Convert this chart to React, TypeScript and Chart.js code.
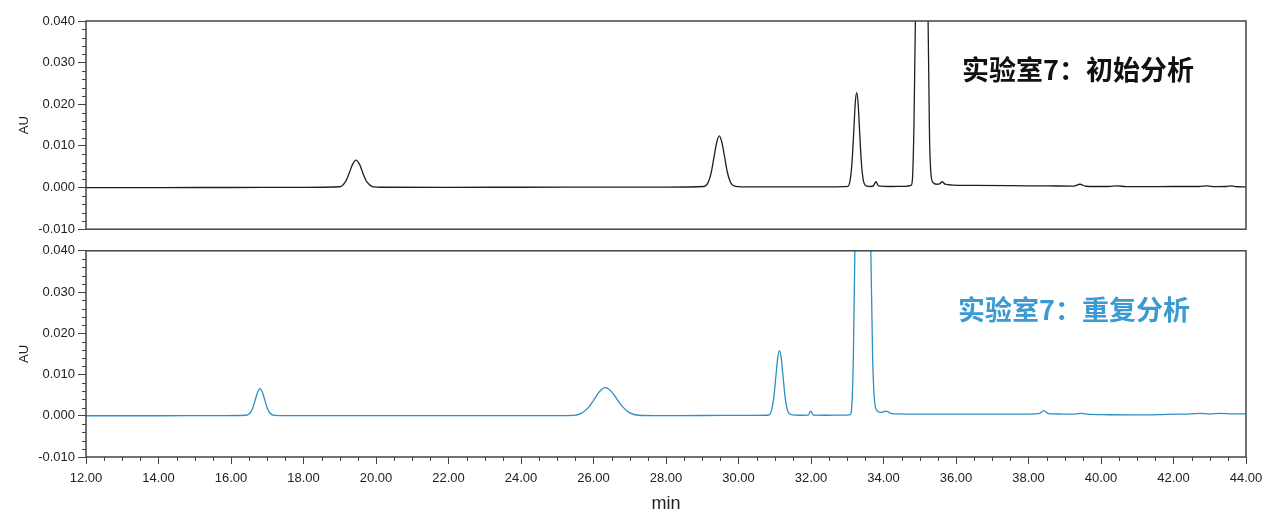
import React, { useEffect, useRef } from "react";
import { Chart, registerables } from "chart.js";

Chart.register(...registerables);

// ---------- data ----------
const xMin = 12;
const xMax = 44;
const yMin = -0.01;
const yMax = 0.04;

const topLabel = "实验室7：初始分析";
const bottomLabel = "实验室7：重复分析";
const xTitle = "min";
const yTitle = "AU";

// Lab 7 initial analysis (black)
const timeTop = [
  12.0, 14.0, 16.0, 18.0, 19.0, 19.15, 19.25, 19.35, 19.45, 19.55, 19.65, 19.75, 19.9, 20.2,
  22.0, 24.0, 26.0, 28.0, 29.05, 29.15, 29.25, 29.33, 29.4, 29.47, 29.54, 29.61, 29.69, 29.79,
  29.92, 30.3, 31.5, 32.5, 33.02, 33.08, 33.13, 33.18, 33.22, 33.26, 33.3, 33.34, 33.39, 33.44,
  33.52, 33.65, 33.72, 33.79, 33.86, 34.2, 34.6, 34.76, 34.8, 34.84, 34.88, 34.95, 35.05, 35.12,
  35.23, 35.27, 35.31, 35.36, 35.45, 35.55, 35.62, 35.7, 35.9, 36.5, 37.5, 38.5, 39.25, 39.42,
  39.58, 40.2, 40.45, 40.7, 41.2, 42.0, 42.7, 42.93, 43.15, 43.45, 43.6, 43.75, 44.0,
];
const auTop = [
  0.0, 0.0, 0.00002, 0.00004, 0.0002, 0.00129, 0.0032, 0.0055, 0.0066, 0.0055, 0.0032, 0.00135, 0.00025, 0.00008,
  0.00006, 0.00008, 0.0001, 0.00012, 0.00026, 0.001, 0.0037, 0.0076, 0.0109, 0.0124, 0.0109, 0.0077, 0.0038, 0.0011,
  0.00028, 0.00015, 0.00016, 0.00018, 0.0003, 0.0018, 0.0059, 0.0135, 0.0202, 0.0228, 0.0202, 0.0136, 0.006, 0.0019,
  0.0004, 0.00025, 0.0004, 0.0014, 0.0004, 0.00025, 0.0003, 0.0005, 0.0022, 0.015, 0.04, 0.12, 0.2, 0.15,
  0.04, 0.012, 0.0032, 0.0013, 0.0008, 0.0009, 0.0014, 0.0008, 0.0006, 0.00052, 0.00045, 0.0004, 0.00035, 0.0008,
  0.00032, 0.00025, 0.0004, 0.00022, 0.00024, 0.00025, 0.00025, 0.0004, 0.00022, 0.00025, 0.0004, 0.0002, 0.00018,
];

// Lab 7 repeat analysis (blue)
const timeBottom = [
  12.0, 14.0, 15.5, 16.42, 16.52, 16.6, 16.67, 16.74, 16.8, 16.86, 16.93, 17.0, 17.08, 17.2,
  17.6, 20.0, 23.0, 25.0, 25.45, 25.65, 25.85, 26.0, 26.15, 26.33, 26.5, 26.65, 26.8, 27.0,
  27.25, 27.7, 29.0, 30.3, 30.82, 30.9, 30.97, 31.03, 31.08, 31.13, 31.18, 31.23, 31.29, 31.36,
  31.45, 31.7, 31.92, 31.99, 32.07, 32.4, 32.9, 33.08, 33.13, 33.17, 33.21, 33.28, 33.42, 33.56,
  33.65, 33.7, 33.75, 33.8, 33.92, 34.07, 34.2, 34.4, 35.0, 36.0, 37.0, 38.0, 38.28, 38.42,
  38.56, 38.9, 39.3, 39.45, 39.6, 40.2, 40.9, 41.6, 42.1, 42.4, 42.75, 43.0, 43.3, 43.6, 44.0,
];
const auBottom = [
  0.0, 0.0, 0.00002, 0.00012, 0.0006, 0.0019, 0.0039, 0.0058, 0.0066, 0.0058, 0.0039, 0.0019, 0.0006, 0.0001,
  0.00003, 0.00002, 0.00003, 0.00005, 0.0001, 0.0005, 0.0019, 0.0037, 0.0057, 0.0068, 0.0058, 0.004, 0.0022, 0.0007,
  0.00012, 0.00005, 0.00006, 0.00008, 0.00012, 0.001, 0.0042, 0.0094, 0.0139, 0.0158, 0.0139, 0.0094, 0.0042, 0.0011,
  0.00025, 0.00012, 0.00015, 0.0011, 0.00015, 0.00012, 0.00015, 0.0003, 0.003, 0.015, 0.04, 0.12, 0.22, 0.13,
  0.04, 0.014, 0.004, 0.0015, 0.0008, 0.0011, 0.0006, 0.00045, 0.0004, 0.0004, 0.00042, 0.00042, 0.0005, 0.00125,
  0.0005, 0.00042, 0.0004, 0.0006, 0.0004, 0.00025, 0.0002, 0.00028, 0.0004, 0.0004, 0.0006, 0.00042, 0.0006, 0.00048, 0.00048,
];

// ---------- styles ----------
const FONT = "'Liberation Sans', Arial, sans-serif";
const CJK = "'Noto Sans CJK SC', 'Noto Sans', sans-serif";
const AXIS_COLOR = "#444444";
const TEXT_COLOR = "#222222";
const BLACK_LINE = "#1e1e1e";
const BLUE_LINE = "#2f8ec3";
const BLUE_TEXT = "#3b9ad2";

const PLOT_LEFT = 86;
const PLOT_RIGHT_PAD = 34;

const framePlugin = {
  id: "frame",
  afterDraw(chart: any) {
    const { ctx, chartArea: a, scales } = chart;
    ctx.save();
    ctx.strokeStyle = AXIS_COLOR;
    ctx.lineWidth = 1;
    ctx.beginPath();
    // y minor ticks every 0.002
    const y = scales.y;
    for (let k = 0; k <= 25; k++) {
      if (k % 5 === 0) continue;
      const v = yMin + k * 0.002;
      const py = Math.round(y.getPixelForValue(v)) + 0.5;
      ctx.moveTo(a.left - 4, py);
      ctx.lineTo(a.left, py);
    }
    const x = scales.x;
    if (x && x.options.display) {
      for (let k = 0; k <= 64; k++) {
        if (k % 4 === 0) continue;
        const v = xMin + k * 0.5;
        const px = Math.round(x.getPixelForValue(v)) + 0.5;
        ctx.moveTo(px, a.bottom);
        ctx.lineTo(px, a.bottom + 4);
      }
    }
    ctx.stroke();
    ctx.lineWidth = 1.5;
    ctx.strokeRect(a.left, a.top, a.right - a.left, a.bottom - a.top);
    ctx.restore();
  },
};

function makeConfig(times: number[], values: number[], color: string, showX: boolean, padTop: number, padBottom: number): any {
  return {
    type: "line",
    data: {
      datasets: [
        {
          data: times.map((t, i) => ({ x: t, y: values[i] })),
          borderColor: color,
          borderWidth: 1.3,
          pointRadius: 0,
          cubicInterpolationMode: "monotone",
          fill: false,
        },
      ],
    },
    options: {
      animation: false,
      responsive: false,
      events: [],
      layout: { padding: { left: 0, right: PLOT_RIGHT_PAD, top: padTop, bottom: padBottom } },
      plugins: { legend: { display: false }, tooltip: { enabled: false }, title: { display: false } },
      scales: {
        x: {
          type: "linear",
          display: showX,
          min: xMin,
          max: xMax,
          border: { display: false },
          grid: { drawOnChartArea: false, drawTicks: true, tickLength: 7, tickColor: AXIS_COLOR, tickWidth: 1 },
          ticks: {
            stepSize: 2,
            autoSkip: false,
            maxRotation: 0,
            padding: 7,
            color: TEXT_COLOR,
            font: { family: FONT, size: 13 },
            callback: (v: number) => Number(v).toFixed(2),
          },
          title: {
            display: true,
            text: xTitle,
            color: TEXT_COLOR,
            font: { family: FONT, size: 18 },
            padding: { top: 0, bottom: 5 },
          },
          afterFit: (s: any) => {
            s.height = showX ? 63 : 0;
          },
        },
        y: {
          type: "linear",
          min: yMin,
          max: yMax,
          border: { display: false },
          grid: { drawOnChartArea: false, drawTicks: true, tickLength: 8, tickColor: AXIS_COLOR, tickWidth: 1 },
          ticks: {
            stepSize: 0.01,
            autoSkip: false,
            padding: 3,
            color: TEXT_COLOR,
            font: { family: FONT, size: 13 },
            callback: (v: number) => Number(v).toFixed(3),
          },
          title: {
            display: true,
            text: yTitle,
            color: TEXT_COLOR,
            font: { family: FONT, size: 13 },
            padding: { top: 17, bottom: 0 },
          },
          afterFit: (s: any) => {
            s.width = PLOT_LEFT;
          },
        },
      },
    },
    plugins: [framePlugin],
  };
}

export default function App() {
  const topRef = useRef<HTMLCanvasElement | null>(null);
  const botRef = useRef<HTMLCanvasElement | null>(null);

  useEffect(() => {
    const c1 = new Chart(topRef.current as HTMLCanvasElement, makeConfig(timeTop, auTop, BLACK_LINE, false, 21, 10));
    const c2 = new Chart(botRef.current as HTMLCanvasElement, makeConfig(timeBottom, auBottom, BLUE_LINE, true, 8, 0));
    return () => {
      c1.destroy();
      c2.destroy();
    };
  }, []);

  const labelStyle: React.CSSProperties = {
    position: "absolute",
    fontFamily: CJK,
    fontWeight: 700,
    fontSize: 27,
    lineHeight: "27px",
    whiteSpace: "nowrap",
  };

  return (
    <div style={{ position: "absolute", left: 0, top: 0, width: 1280, height: 520, background: "#ffffff", overflow: "hidden" }}>
      <canvas ref={topRef} width={1280} height={240} style={{ position: "absolute", left: 0, top: 0, display: "block" }} />
      <canvas ref={botRef} width={1280} height={280} style={{ position: "absolute", left: 0, top: 240, display: "block" }} />
      <div style={{ ...labelStyle, left: 962, top: 55, color: "#111111" }}>{topLabel}</div>
      <div style={{ ...labelStyle, left: 958, top: 295, color: BLUE_TEXT }}>{bottomLabel}</div>
    </div>
  );
}
